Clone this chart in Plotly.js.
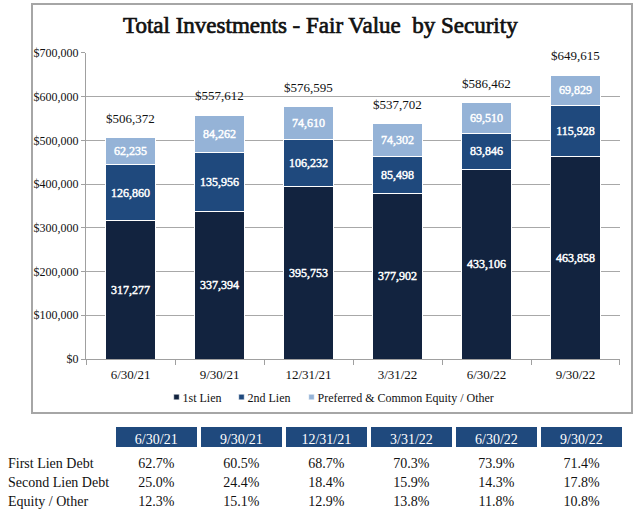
<!DOCTYPE html>
<html>
<head>
<meta charset="utf-8">
<script src="https://cdn.plot.ly/plotly-3.0.1.min.js"></script>
<style>
html,body{margin:0;padding:0;background:#fff;}
#chart{width:640px;height:515px;}
#chart g.annotation[data-index="6"] text{stroke:#111111;stroke-width:0.7px;}
#chart text.bartext{stroke:#FFFFFF;stroke-width:0.45px;}
#chart .legendpoints path{transform:translate(34px,0px) scale(0.45);}
</style>
</head>
<body>
<div id="chart"></div>
<script>
var dates = ["6/30/21", "9/30/21", "12/31/21", "3/31/22", "6/30/22", "9/30/22"];
var firstLien = [317277, 337394, 395753, 377902, 433106, 463858];
var secondLien = [126860, 135956, 106232, 85498, 83846, 115928];
var equityOther = [62235, 84262, 74610, 74302, 69510, 69829];
var totals = [506372, 557612, 576595, 537702, 586462, 649615];
var seriesNames = ["1st Lien", "2nd Lien", "Preferred & Common Equity / Other"];
var tableRowLabels = ["First Lien Debt", "Second Lien Debt", "Equity / Other"];
var firstLienPct = ["62.7%", "60.5%", "68.7%", "70.3%", "73.9%", "71.4%"];
var secondLienPct = ["25.0%", "24.4%", "18.4%", "15.9%", "14.3%", "17.8%"];
var equityPct = ["12.3%", "15.1%", "12.9%", "13.8%", "11.8%", "10.8%"];

var FONT = "Liberation Serif";
var colors = ["#12233F", "#1F497D", "#95B3D7"];
var legendIds = ["legend", "legend2", "legend3"];
var fmt = function (v) { return v.toLocaleString("en-US"); };

function barTrace(vals, i) {
  return {
    type: "bar", x: dates, y: vals, name: seriesNames[i], legend: legendIds[i],
    marker: {color: colors[i], line: {color: "#FFFFFF", width: 1}},
    text: vals.map(fmt),
    textposition: "inside", insidetextanchor: "middle",
    textangle: 0, textfont: {family: FONT, size: 12, color: "#FFFFFF"},
    hoverinfo: "skip", xaxis: "x", yaxis: "y"
  };
}

var tableCols = [tableRowLabels.map(function (s) { return s.replace(/ /g, "\u00a0"); })];
for (var c = 0; c < dates.length; c++) {
  tableCols.push([firstLienPct[c], secondLienPct[c], equityPct[c]]);
}
var headerVals = [""].concat(dates);
var headerFill = ["#FFFFFF"].concat(dates.map(function () { return "#1F497D"; }));

var table = {
  type: "table",
  domain: {x: [0, 0.975], y: [0, 0.174]},
  columnwidth: [113, 84.5, 84.5, 84.5, 84.5, 84.5, 84.5],
  header: {
    values: headerVals, height: 24, align: "center",
    fill: {color: headerFill}, line: {color: "#FFFFFF", width: 4},
    font: {family: FONT, size: 14, color: "#FFFFFF"}
  },
  cells: {
    values: tableCols, height: 19,
    align: ["left", "center", "center", "center", "center", "center", "center"],
    fill: {color: "#FFFFFF"}, line: {color: "#FFFFFF", width: 1},
    font: {family: FONT, size: 14, color: "#111111"}
  }
};

var annotations = dates.map(function (d, i) {
  return {x: d, y: totals[i], xref: "x", yref: "y", text: "$" + fmt(totals[i]),
    showarrow: false, yanchor: "bottom", yshift: 10,
    font: {family: FONT, size: 13, color: "#111111"}};
});
annotations.push({text: "Total Investments - Fair Value  by Security", xref: "paper", yref: "paper",
  x: 0.5, y: 0.951, xanchor: "center", yanchor: "middle", showarrow: false,
  font: {family: FONT, size: 23, color: "#111111"}});

var legendFont = {family: FONT, size: 12, color: "#111111"};
function legendAt(xpx) {
  return {orientation: "h", x: xpx / 640, xanchor: "left", y: 0.229, yanchor: "middle",
    bgcolor: "rgba(0,0,0,0)", traceorder: "normal", font: legendFont};
}
var layout = {
  width: 640, height: 515,
  margin: {l: 0, r: 0, t: 0, b: 0},
  paper_bgcolor: "#FFFFFF", plot_bgcolor: "#FFFFFF",
  barmode: "stack", bargap: 0.44,
  showlegend: true,
  legend: legendAt(142.5),
  legend2: legendAt(207.5),
  legend3: legendAt(277.5),
  uniformtext: {minsize: 12, mode: "show"},
  xaxis: {domain: [0.1344, 0.96875], tickfont: {family: FONT, size: 13, color: "#111111"},
    ticks: "outside", tickson: "boundaries", ticklen: 5, tickcolor: "#A0A0A0",
    ticklabelstandoff: 3,
    showline: true, linecolor: "#A0A0A0", linewidth: 1, showgrid: false, fixedrange: true},
  yaxis: {domain: [0.3029, 0.8971], range: [0, 700000], dtick: 100000,
    tickprefix: "$", tickformat: ",d", tickfont: {family: FONT, size: 12, color: "#111111"},
    ticks: "outside", ticklen: 4, tickcolor: "#A0A0A0",
    showline: true, linecolor: "#A0A0A0", linewidth: 1,
    gridcolor: "#A8A8A8", gridwidth: 1, zeroline: false, fixedrange: true},
  annotations: annotations,
  shapes: [{type: "rect", xref: "paper", yref: "paper",
    x0: 32 / 640, x1: 632 / 640, y0: 1 - 413 / 515, y1: 1 - 4 / 515,
    line: {color: "#A6A6A6", width: 2}, fillcolor: "rgba(0,0,0,0)", layer: "below"}]
};

var data = [barTrace(firstLien, 0), barTrace(secondLien, 1), barTrace(equityOther, 2), table];
Plotly.newPlot("chart", data, layout, {displayModeBar: false, staticPlot: true});
</script>
</body>
</html>
